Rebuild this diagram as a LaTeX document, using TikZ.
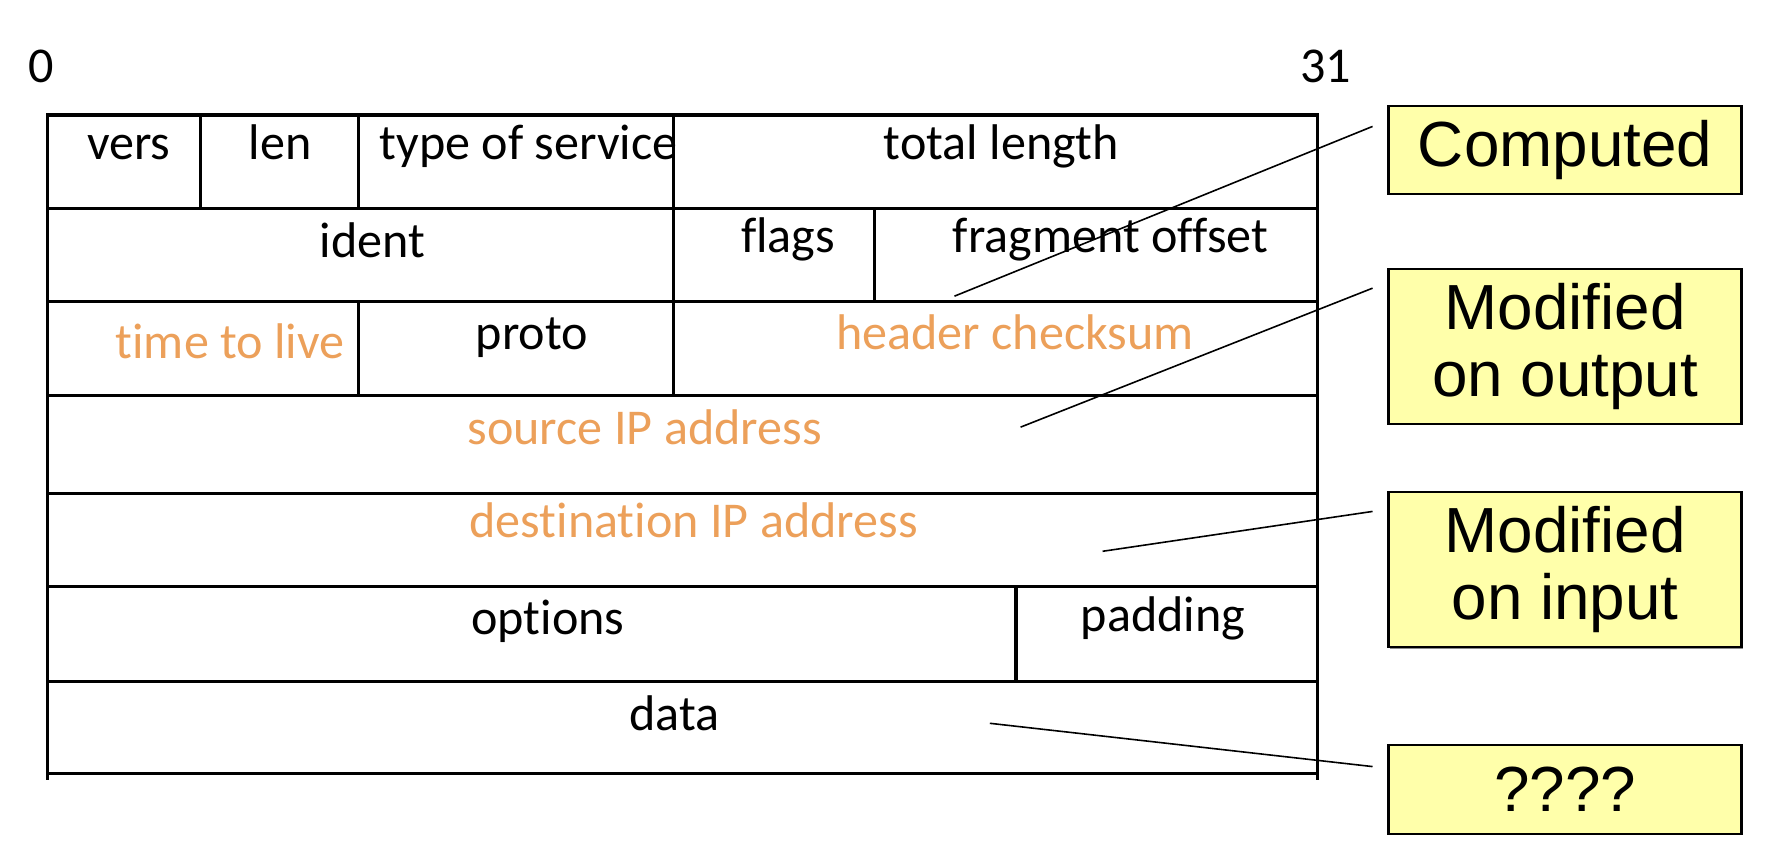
\documentclass[tikz,border=0pt]{standalone}
\usepackage{fontspec}
\setmainfont{Carlito}[Ligatures={NoCommon}]
\newfontfamily\arialf{Liberation Sans}
\usetikzlibrary{calc,shadows}
\definecolor{fieldorange}{RGB}{236,160,90}
\definecolor{noteyellow}{RGB}{255,255,170}
\begin{document}
\begin{tikzpicture}[x=0.25pt,y=-0.25pt,
  grid/.style={line width=0.7pt, black, line cap=rect},
  field/.style={font=\fontsize{11}{13}\selectfont, anchor=base, inner sep=0pt},
  hot/.style={field, text=fieldorange},
  note/.style={draw=black, line width=0.55pt, fill=noteyellow,
    drop shadow={shadow xshift=0.35pt, shadow yshift=-0.35pt, fill=black!45, opacity=1},
    font=\arialf\fontsize{14}{14.8}\selectfont, align=center, inner sep=0pt,
    anchor=north west, minimum width=77.5pt},
  lead/.style={line width=0.35pt, black}
]
\useasboundingbox (0,0) rectangle (1568,762);

% bit numbers
\node[field] (b0) at (36,72) {0};
\node[field] (b31) at (1164,72) {31};

% frame and rows
\draw[grid] (42,683) -- (42,101) -- (1157,101) -- (1157,683);
\foreach \yy in {183,265,347,433,515,598,679}
  \draw[grid] (42,\yy) -- (1157,\yy);
% row dividers
\draw[grid] (176,101) -- (176,183);
\draw[grid] (315,101) -- (315,183);
\draw[grid] (591,101) -- (591,183);
\draw[grid] (591,183) -- (591,265);
\draw[grid] (768,183) -- (768,265);
\draw[grid] (315,265) -- (315,347);
\draw[grid] (591,265) -- (591,347);
\draw[grid] (892,515) -- (892,598);

% field labels
\node[field] (vers) at (113,140) {vers};
\node[field] (len) at (246,140) {len};
\node[field] (tos) at (464,140) {type of service};
\node[field] (tlen) at (879,140) {total length};
\node[field] (ident) at (327,226) {ident};
\node[field] (flags) at (692,222) {flags};
\node[field] (frag) at (975,222) {fragment offset};
\node[hot] (ttl) at (202,315) {time to live};
\node[field] (proto) at (467,307) {proto};
\node[hot] (cksum) at (891,307) {header checksum};
\node[hot] (src) at (566,390) {source IP address};
\node[hot] (dst) at (609,472) {destination IP address};
\node[field] (opt) at (481,557) {options};
\node[field] (pad) at (1021,554) {padding};
\node[field] (data) at (592,641) {data};

% notes
\node[note, minimum height=19.25pt] (comp) at (1218,92) {Computed};
\node[note, minimum height=34pt] (mout) at (1218,235) {Modified\\on output};
\node[note, minimum height=34pt] (minp) at (1218,431) {Modified\\on input};
\node[note, minimum height=19.5pt] (qq) at (1218,653) {????};

% leader lines
\coordinate (p1) at (838,260);
\coordinate (p2) at (896,375);
\coordinate (p3) at (968,484);
\coordinate (p4) at (869,635);
\draw[lead] (p1) -- ($(comp.north west)+(-13,19)$);
\draw[lead] (p2) -- ($(mout.north west)+(-13,18)$);
\draw[lead] (p3) -- ($(minp.north west)+(-13,18)$);
\draw[lead] (p4) -- ($(qq.north west)+(-13,20)$);
\end{tikzpicture}
\end{document}
